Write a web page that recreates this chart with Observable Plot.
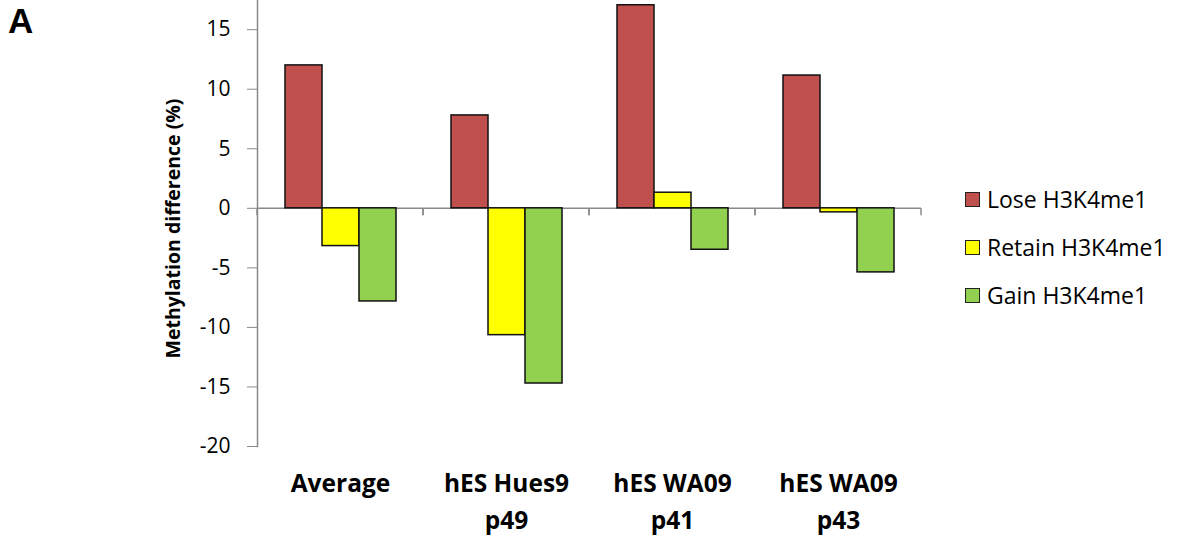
<!DOCTYPE html>
<html>
<head>
<meta charset="utf-8">
<script src="https://cdn.jsdelivr.net/npm/d3@7"></script>
<script src="https://cdn.jsdelivr.net/npm/@observablehq/plot@0.6"></script>
<style>
  html, body { margin: 0; padding: 0; background: #fff; }
  #wrap { position: relative; width: 1178px; height: 539px; font-family: "Open Sans", sans-serif; }
  #panel { position: absolute; left: 8px; top: 3px; font: bold 35px "Liberation Sans", Arial, sans-serif; line-height: 1; color: #000; }
  #legend { position: absolute; left: 965px; top: 175px; font-size: 23px; color: #000; }
  .item { display: flex; align-items: center; height: 48px; }
  .sw { width: 13px; height: 13px; border: 1.5px solid #222; margin-right: 7px; }
</style>
</head>
<body>
<div id="wrap">
  <div id="chart"></div>
  <div id="panel">A</div>
  <div id="legend"></div>
</div>
<script>
const categories = ["Average", "hES Hues9 p49", "hES WA09 p41", "hES WA09 p43"];
const categoryLabels = ["Average", "hES Hues9\np49", "hES WA09\np41", "hES WA09\np43"];
const series = ["Lose H3K4me1", "Retain H3K4me1", "Gain H3K4me1"];
const colors = ["#C0504D", "#FFFF00", "#92D050"];
const loseValues = [12.0, 7.8, 17.05, 11.15];
const retainValues = [-3.17, -10.65, 1.31, -0.34];
const gainValues = [-7.82, -14.71, -3.48, -5.38];
const yTicks = [-20, -15, -10, -5, 0, 5, 10, 15];
const yLabel = "Methylation difference (%)";

const valuesBySeries = [loseValues, retainValues, gainValues];
const data = [];
categories.forEach((c, i) => series.forEach((s, j) => data.push({category: c, series: s, value: valuesBySeries[j][i]})));

const axisGray = "#8a8a8a";

const chart = Plot.plot({
  width: 1178,
  height: 539,
  marginLeft: 256,
  marginRight: 257,
  marginTop: 0,
  marginBottom: 93,
  style: {fontFamily: "'Open Sans', sans-serif", color: "#000", background: "#fff"},
  fx: {domain: categories, padding: 0},
  x: {domain: series, paddingInner: 0, paddingOuter: 0.72, axis: null},
  y: {domain: [-20, 17.45]},
  color: {domain: series, range: colors},
  marks: [
    Plot.frame({anchor: "left", stroke: axisGray, strokeWidth: 1.5, facet: "super"}),
    Plot.ruleY([0], {
      stroke: axisGray,
      strokeWidth: 1.5,
      render(index, scales, values, dimensions, context, next) {
        const g = next(index, scales, values, dimensions, context);
        const y0 = scales.y(0);
        const {marginLeft, marginRight, width} = dimensions;
        for (const xx of [marginLeft, width - marginRight]) {
          const line = document.createElementNS("http://www.w3.org/2000/svg", "line");
          line.setAttribute("x1", xx); line.setAttribute("x2", xx);
          line.setAttribute("y1", y0); line.setAttribute("y2", y0 + 7);
          line.setAttribute("stroke", axisGray); line.setAttribute("stroke-width", 1.5);
          g.appendChild(line);
        }
        return g;
      }
    }),
    Plot.barY(data, {fx: "category", x: "series", y: "value", fill: "series", stroke: "#111", strokeWidth: 1.5}),
    Plot.axisY({ticks: yTicks, tickSize: 10, tickPadding: 17, fontSize: 21, stroke: axisGray, fill: "#000", label: null, tickFormat: d => d < 0 ? "-" + Math.abs(d) : String(d)}),
    Plot.axisFx({anchor: "bottom", tickSize: 0, tickPadding: 19, fontSize: 24.5, fontWeight: "bold", lineHeight: 1.51, label: null, tickFormat: (d) => categoryLabels[categories.indexOf(d)]}),
    Plot.text([yLabel], {frameAnchor: "left", textAnchor: "middle", rotate: -90, dx: -84, dy: 5, fontSize: 19.5, fontWeight: "bold", fill: "#000", facet: "super"})
  ]
});
document.getElementById("chart").appendChild(chart);

const legend = document.getElementById("legend");
series.forEach((s, i) => {
  const item = document.createElement("div");
  item.className = "item";
  const sw = document.createElement("div");
  sw.className = "sw";
  sw.style.background = colors[i];
  const t = document.createElement("span");
  t.textContent = s;
  item.appendChild(sw);
  item.appendChild(t);
  legend.appendChild(item);
});
</script>
</body>
</html>
